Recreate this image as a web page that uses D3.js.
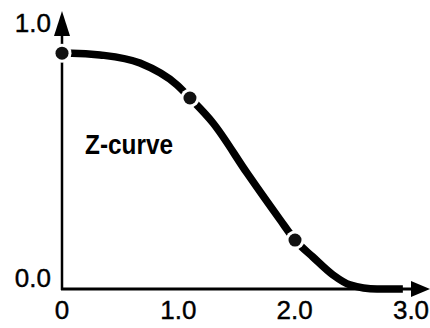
<!DOCTYPE html>
<html>
<head>
<meta charset="utf-8">
<script src="https://cdn.jsdelivr.net/npm/d3@7"></script>
<style>
  html, body { margin: 0; padding: 0; background: #fff; }
  svg { display: block; }
  text { font-family: "Liberation Sans", Arial, sans-serif; fill: #000; }
</style>
</head>
<body>
<script>
// ---- data ----
const xTicks = [0, 1, 2, 3];
const xTickLabels = ["0", "1.0", "2.0", "3.0"];
const yTicks = [0, 1];
const yTickLabels = ["0.0", "1.0"];
const curveX = [0, 0.086, 0.327, 0.670, 0.989, 1.100, 1.298, 1.590, 1.874, 2.003, 2.158, 2.330, 2.476, 2.708, 2.930];
const curveY = [0.925, 0.925, 0.918, 0.886, 0.800, 0.749, 0.651, 0.455, 0.272, 0.192, 0.125, 0.055, 0.016, 0.0, 0.0];
const markerX = [0, 1.100, 2.003];
const markerY = [0.925, 0.749, 0.192];
const curveLabel = "Z-curve";

// ---- layout ----
const W = 430, H = 328;
const svg = d3.select("body").append("svg").attr("width", W).attr("height", H);

const x = d3.scaleLinear().domain([0, 3]).range([62, 411]);
const y = d3.scaleLinear().domain([0, 1]).range([289, 34]);

// axes
svg.append("line")
  .attr("x1", x(0)).attr("x2", x(0))
  .attr("y1", y(0) + 1).attr("y2", 30)
  .attr("stroke", "#000").attr("stroke-width", 2.5);
svg.append("path")
  .attr("d", `M${x(0)},11 L${x(0) - 8},36 L${x(0) + 8},36 Z`)
  .attr("fill", "#000");

svg.append("line")
  .attr("x1", x(0) - 1).attr("x2", 416)
  .attr("y1", y(0)).attr("y2", y(0))
  .attr("stroke", "#000").attr("stroke-width", 3);
svg.append("path")
  .attr("d", `M430,${y(0)} L411,${y(0) - 8} L411,${y(0) + 8} Z`)
  .attr("fill", "#000");

// tick labels
svg.selectAll("text.xt").data(xTicks).enter().append("text")
  .attr("class", "xt")
  .attr("x", d => x(d)).attr("y", 319)
  .attr("text-anchor", "middle")
  .attr("font-size", 26)
  .attr("stroke", "#000").attr("stroke-width", 0.4)
  .text((d, i) => xTickLabels[i]);

svg.selectAll("text.yt").data(yTicks).enter().append("text")
  .attr("class", "yt")
  .attr("x", 51).attr("y", d => y(d) - 2)
  .attr("text-anchor", "end")
  .attr("font-size", 26)
  .attr("stroke", "#000").attr("stroke-width", 0.4)
  .text((d, i) => yTickLabels[i]);

// curve
const pts = curveX.map((v, i) => [v, curveY[i]]);
const line = d3.line().x(d => x(d[0])).y(d => y(d[1])).curve(d3.curveMonotoneX);
svg.append("path")
  .attr("d", line(pts))
  .attr("fill", "none")
  .attr("stroke", "#000")
  .attr("stroke-width", 7.5)
  .attr("stroke-linecap", "butt");

// markers
const mk = markerX.map((v, i) => [v, markerY[i]]);
svg.selectAll("circle.halo").data(mk).enter().append("circle")
  .attr("class", "halo")
  .attr("cx", d => x(d[0])).attr("cy", d => y(d[1]))
  .attr("r", 9.5).attr("fill", "#fff");
svg.selectAll("circle.dot").data(mk).enter().append("circle")
  .attr("class", "dot")
  .attr("cx", d => x(d[0])).attr("cy", d => y(d[1]))
  .attr("r", 6.5).attr("fill", "#111");

// label
svg.append("text")
  .attr("x", 85).attr("y", 154)
  .attr("font-size", 27).attr("font-weight", "bold")
  .attr("textLength", 88).attr("lengthAdjust", "spacingAndGlyphs")
  .text(curveLabel);
</script>
</body>
</html>
